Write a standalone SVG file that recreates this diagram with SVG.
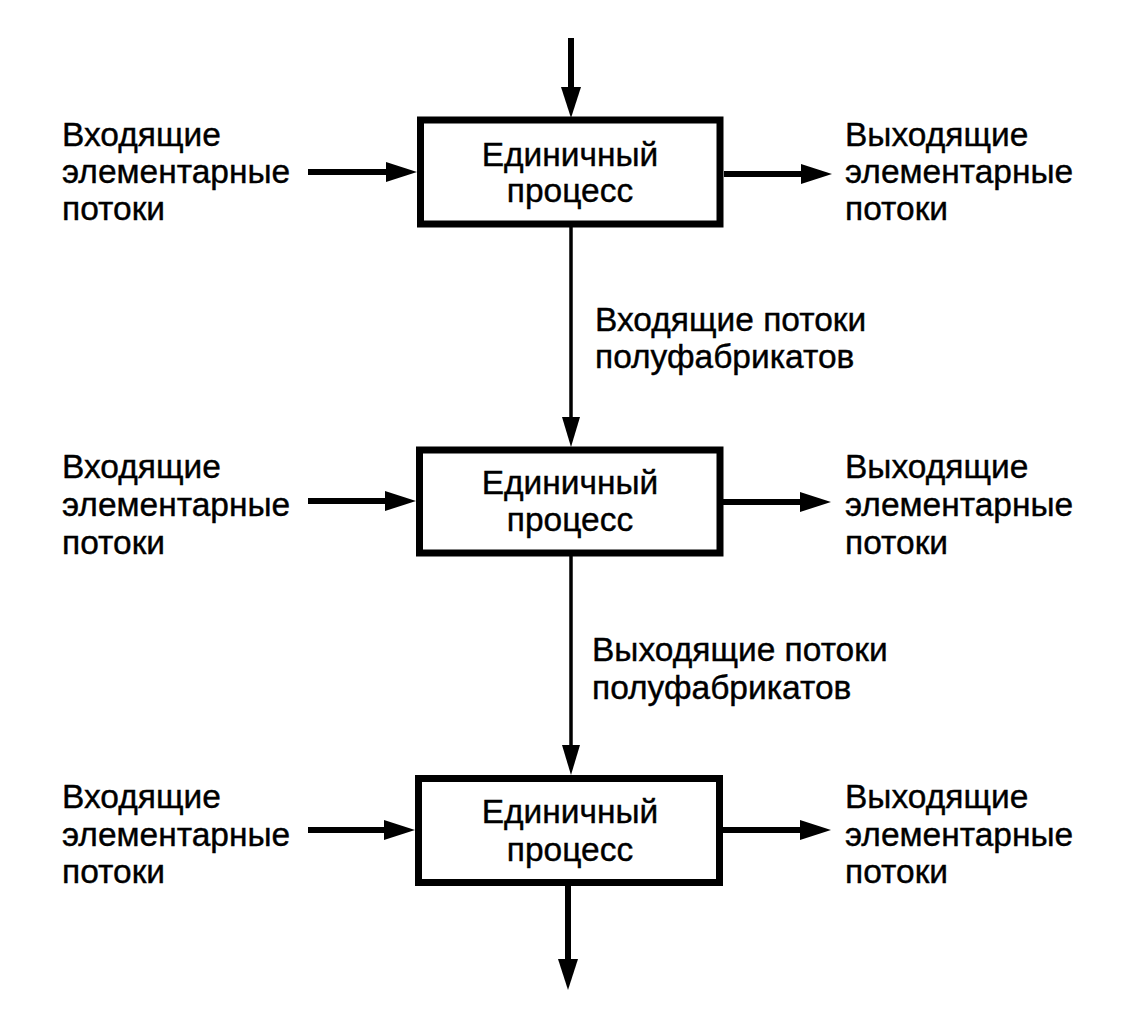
<svg xmlns="http://www.w3.org/2000/svg" width="1143" height="1030" viewBox="0 0 1143 1030">
<defs>
<style>
text{font-family:"Liberation Sans",Arial,sans-serif;font-size:33.5px;fill:#000;stroke:#000;stroke-width:0.4}
.c{text-anchor:middle}
.box{fill:#fff;stroke:#000;stroke-width:7}
.thick{stroke:#000;stroke-width:6;fill:none}
.thin{stroke:#000;stroke-width:3.5;fill:none}
</style>
<marker id="ah" markerUnits="userSpaceOnUse" markerWidth="31" markerHeight="20" refX="20" refY="10" orient="auto" viewBox="0 0 31 20">
<path d="M0,0 L31,10 L0,20 z" fill="#000"/>
</marker>
<marker id="ahs" markerUnits="userSpaceOnUse" markerWidth="30" markerHeight="18" refX="20" refY="9" orient="auto" viewBox="0 0 30 18">
<path d="M0,0 L30,9 L0,18 z" fill="#000"/>
</marker>
</defs>
<rect width="1143" height="1030" fill="#fff"/>
<g id="connectors">
<line class="thick" x1="571" y1="38" x2="571" y2="107" marker-end="url(#ah)"/>
<line class="thin" x1="571" y1="227" x2="571" y2="437" marker-end="url(#ahs)"/>
<line class="thin" x1="571" y1="556" x2="571" y2="765" marker-end="url(#ahs)"/>
<line class="thick" x1="568" y1="886" x2="568" y2="979" marker-end="url(#ah)"/>
<line class="thick" x1="308" y1="172" x2="406" y2="172" marker-end="url(#ah)"/>
<line class="thick" x1="724" y1="174" x2="821" y2="174" marker-end="url(#ah)"/>
<line class="thick" x1="308" y1="501" x2="405" y2="501" marker-end="url(#ah)"/>
<line class="thick" x1="723" y1="502" x2="820" y2="502" marker-end="url(#ah)"/>
<line class="thick" x1="308" y1="830" x2="404" y2="830" marker-end="url(#ah)"/>
<line class="thick" x1="723" y1="830" x2="820" y2="830" marker-end="url(#ah)"/>
</g>
<g id="process1">
<rect class="box" x="420.5" y="120" width="299.5" height="104"/>
<text class="c" x="570" y="166">Единичный</text>
<text class="c" x="570" y="202">процесс</text>
</g>
<g id="process2">
<rect class="box" x="419.5" y="450" width="300.5" height="103"/>
<text class="c" x="570" y="494">Единичный</text>
<text class="c" x="570" y="531">процесс</text>
</g>
<g id="process3">
<rect class="box" x="418.5" y="778.5" width="301" height="104"/>
<text class="c" x="570" y="823">Единичный</text>
<text class="c" x="570" y="861">процесс</text>
</g>
<g id="in1">
<text x="62" y="146">Входящие</text>
<text x="62" y="183">элементарные</text>
<text x="62" y="220">потоки</text>
</g>
<g id="out1">
<text x="845" y="146">Выходящие</text>
<text x="845" y="183">элементарные</text>
<text x="845" y="220">потоки</text>
</g>
<g id="label1">
<text x="595" y="331">Входящие потоки</text>
<text x="595" y="368">полуфабрикатов</text>
</g>
<g id="in2">
<text x="62" y="478">Входящие</text>
<text x="62" y="516">элементарные</text>
<text x="62" y="554">потоки</text>
</g>
<g id="out2">
<text x="845" y="478">Выходящие</text>
<text x="845" y="516">элементарные</text>
<text x="845" y="554">потоки</text>
</g>
<g id="label2">
<text x="592" y="661">Выходящие потоки</text>
<text x="592" y="699">полуфабрикатов</text>
</g>
<g id="in3">
<text x="62" y="808">Входящие</text>
<text x="62" y="846">элементарные</text>
<text x="62" y="883">потоки</text>
</g>
<g id="out3">
<text x="845" y="808">Выходящие</text>
<text x="845" y="846">элементарные</text>
<text x="845" y="883">потоки</text>
</g>
</svg>
